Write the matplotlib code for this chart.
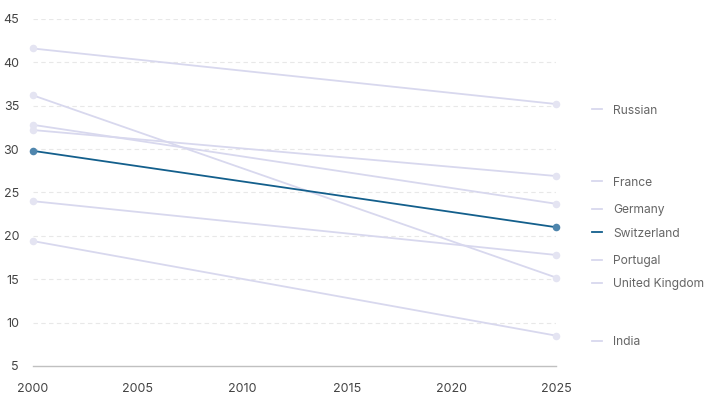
import matplotlib.pyplot as plt

years = [2000, 2025]
countries = ['Russian', 'France', 'Germany', 'Switzerland', 'Portugal', 'United Kingdom', 'India']
start_vals = [41.6, 32.2, 32.8, 29.8, 24.0, 36.2, 19.4]
end_vals = [35.2, 26.9, 23.7, 21.0, 17.8, 15.2, 8.5]
highlight = 'Switzerland'

plt.rcParams['font.family'] = ['Inter', 'DejaVu Sans']

fig = plt.figure(figsize=(7.11, 4.0), dpi=100)
ax = fig.add_axes([33 / 711, 1 - 366 / 400, (556 - 33) / 711, (366 - 19) / 400])

light = '#d8d8ee'
dark = '#135f8c'

for name, a, b in zip(countries, start_vals, end_vals):
    if name == highlight:
        continue
    ax.plot(years, [a, b], color=light, lw=1.3, zorder=2)
    ax.scatter(years, [a, b], s=30, color='#e4e4f2', zorder=3, clip_on=False, lw=0)

for name, a, b in zip(countries, start_vals, end_vals):
    if name != highlight:
        continue
    ax.plot(years, [a, b], color=dark, lw=1.3, zorder=4)
    ax.scatter(years, [a, b], s=30, color='#4f86ad', zorder=5, clip_on=False, lw=0)

# labels on the right, slightly below each end point
shift = 5 / 8.675
for name, b in zip(countries, end_vals):
    c = dark if name == highlight else light
    ax.plot([2026.7, 2027.2], [b - shift, b - shift], color=c, lw=1.3, clip_on=False)
    ax.annotate(name, xy=(2025, b - shift), xytext=(41, 0), textcoords='offset points',
                fontsize=8.7, color='#666666', va='center_baseline', ha='left',
                annotation_clip=False)

ax.set_xlim(2000, 2025)
ax.set_ylim(5, 45)
ax.set_xticks([2000, 2005, 2010, 2015, 2020, 2025])
ax.set_yticks([5, 10, 15, 20, 25, 30, 35, 40, 45])

for y in [10, 15, 20, 25, 30, 35, 40, 45]:
    ax.axhline(y, color='#e8e8e8', lw=0.8, ls=(0, (4, 3)), zorder=1)

for s in ['top', 'right', 'left']:
    ax.spines[s].set_visible(False)
ax.spines['bottom'].set_color('#c0c0c0')
ax.spines['bottom'].set_linewidth(1)

ax.tick_params(axis='both', length=0, labelsize=9, labelcolor='#444444')
ax.tick_params(axis='y', pad=10)
ax.tick_params(axis='x', pad=12)

fig.savefig('out.png', dpi=100)
